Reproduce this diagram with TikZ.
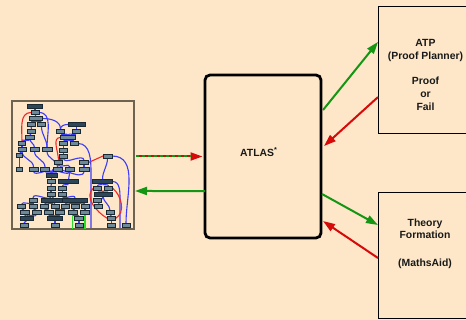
\documentclass[tikz,border=0pt]{standalone}
\usepackage{fontspec}
\setmainfont{Liberation Sans}
\usetikzlibrary{arrows.meta,calc}
\definecolor{bg}{RGB}{253,231,200}
\definecolor{agreen}{RGB}{20,150,20}
\definecolor{ared}{RGB}{215,10,10}
\definecolor{tblue}{RGB}{60,60,250}
\definecolor{tred}{RGB}{240,40,40}
\definecolor{tgreen}{RGB}{40,220,40}
\definecolor{tfill}{RGB}{110,138,153}
\definecolor{tdark}{RGB}{45,70,88}
\definecolor{tedge}{RGB}{25,40,50}
\definecolor{framec}{RGB}{110,98,80}
\definecolor{txt}{RGB}{25,25,25}
\pgfdeclarelayer{bgl}
\pgfdeclarelayer{edges}
\pgfsetlayers{bgl,edges,main}
\begin{document}
\begin{tikzpicture}[x=1pt,y=-1pt,
  tn/.style={draw=tedge, fill=tfill, line width=0.6pt, minimum height=4pt, minimum width=#1, inner sep=0pt, outer sep=0pt},
  tnd/.style={tn=#1, fill=tdark},
  be/.style={draw=tblue, line width=1.1pt},
  re/.style={draw=tred, line width=1.1pt},
  ge/.style={draw=tgreen, line width=1.1pt},
  box/.style={draw=black, line width=0.9pt, fill=bg, inner sep=0pt, outer sep=0pt},
  lbl/.style={font=\fontsize{10.4}{12.8}\selectfont\bfseries, text=txt, inner sep=0pt, anchor=base},
  arr/.style={line width=2pt, -{Triangle[length=12pt,width=8pt]}},
]
\useasboundingbox (0,0) rectangle (466,320);
\clip (0,0) rectangle (466,320);
\begin{pgfonlayer}{bgl}
\fill[bg] (0,0) rectangle (466,320);
\node[draw=framec, line width=1.8pt, fill=bg, minimum width=122pt, minimum height=128pt, inner sep=0pt, outer sep=0pt] (img) at (73,165) {};
\end{pgfonlayer}

% ---- tree picture: left cluster
\node[tnd=15pt] (n1) at (35,106) {};
\node[tn=8pt] (n2) at (35,112.5) {};
\node[tn=13pt] (n3) at (36,118.5) {};
\node[tn=8pt] (n4) at (31,124.5) {};
\node[tn=8pt] (n5) at (41.5,124.5) {};
\node[tn=8pt] (n6) at (31.5,131) {};
\node[tn=9pt] (n7) at (30,137) {};
\node[tn=7pt] (n8) at (22,143.5) {};
\node[tn=8pt] (n9) at (22,149.5) {};
\node[tn=9pt] (n10) at (34.5,149.5) {};
\node[tn=10pt] (n11) at (47,149.5) {};
\node[tn=6pt] (n12) at (19.5,155.5) {};
% right upper cluster
\node[tnd=17pt] (m1) at (76.5,124.5) {};
\node[tn=8pt] (m2) at (60.5,131) {};
\node[tn=8pt] (m3) at (76.5,131) {};
\node[tn=15pt] (m4) at (68,137.5) {};
\node[tn=8pt] (m5) at (63.5,143.5) {};
\node[tn=8pt] (m6) at (74,143.5) {};
\node[tn=8pt] (m7) at (63.5,150) {};
\node[tn=8pt] (m8) at (63.5,156) {};
\node[tn=8pt] (m9) at (58.5,162.5) {};
\node[tn=9pt] (m10) at (84,162.5) {};
\node[tn=9pt] (m11) at (107.5,156) {};
% middle row
\node[tn=6pt] (r1) at (19.5,169) {};
\node[tn=9pt] (r2) at (33.5,169) {};
\node[tn=9pt] (r3) at (45,169) {};
\node[tn=9pt] (r4) at (57.5,169) {};
\node[tn=9pt] (r5) at (70,169) {};
\node[tn=10pt] (r6) at (84,169) {};
\node[tnd=11pt] (s1) at (51.5,175) {};
\node[tn=8pt] (s2) at (51.5,181.5) {};
\node[tnd=20pt] (s3) at (68.5,181.5) {};
\node[tnd=20pt] (s4) at (102.5,181.5) {};
\node[tn=8pt] (s5) at (51,188) {};
\node[tn=8pt] (s6) at (62.5,188) {};
\node[tn=8pt] (s7) at (97.5,188) {};
\node[tn=8pt] (s8) at (108.5,188) {};
\node[tn=8pt] (s9) at (51,194) {};
\node[tn=8pt] (s10) at (62.5,194) {};
\node[tnd=18pt] (s11) at (103,194) {};
\node[tn=8pt] (t1) at (33,200) {};
\node[tnd=25pt] (t2) at (53.5,200) {};
\node[tnd=25pt] (t3) at (75,200) {};
\node[tn=8pt] (t4) at (97.5,200) {};
% lower rows
\node[tn=8pt] (u1) at (21.5,206.5) {};
\node[tn=8pt] (u2) at (33,206.5) {};
\node[tn=8pt] (u3) at (44.5,206.5) {};
\node[tn=8pt] (u4) at (55,206.5) {};
\node[tn=8pt] (u5) at (65,206.5) {};
\node[tn=8pt] (u6) at (75,206.5) {};
\node[tn=8pt] (u7) at (85,206.5) {};
\node[tn=8pt] (u8) at (98.5,206.5) {};
\node[tn=9pt] (v1) at (24.5,212.5) {};
\node[tn=9pt] (v2) at (36.5,212.5) {};
\node[tn=9pt] (v3) at (48.5,212.5) {};
\node[tn=9pt] (v4) at (60,212.5) {};
\node[tn=9pt] (v5) at (72.5,212.5) {};
\node[tn=9pt] (v6) at (85,212.5) {};
\node[tn=8pt] (v7) at (110,212.5) {};
\node[tnd=13pt] (w1) at (26.5,218.5) {};
\node[tnd=15pt] (w2) at (55,218.5) {};
\node[tn=9pt] (w3) at (79,218.5) {};
\node[tn=8pt] (w4) at (111.5,218.5) {};
\node[tn=8pt] (x1) at (24,225) {};
\node[tn=8pt] (x2) at (55,225) {};
\node[tn=8pt] (x3) at (79,225) {};
\node[tn=8pt] (x4) at (111.5,225) {};
\node[tn=8pt] (x5) at (126,225) {};
\coordinate (b1) at (91,172);
\coordinate (b2) at (91,228);
\coordinate (b3) at (120,200);
\coordinate (b4) at (120,228);

\begin{pgfonlayer}{edges}
\foreach \a/\b in {n1/n2,n2/n3,n3/n4,n3/n5,n4/n6,n6/n7,n7/n8,n7/n10,n8/n9,n9/n12,n12/r1,n9/r2,n10/r3,n11/r4,n5/n11,
  m9/r4,m9/r5,m10/r6,m1/m3,m3/m4,m2/m4,m4/m5,m4/m6,m5/m7,m7/m8,m8/m9,m8/m10,
  r2/s1,r3/s1,r4/s1,r5/s1,r6/s1,s1/s2,r5/s3,s2/s5,s3/s6,s5/s9,s6/s10,s9/t1,s9/t2,s10/t3,
  t1/u1,t1/u2,t2/u3,t2/u4,t3/u5,t3/u6,t3/u7,u1/v1,u2/v2,u3/v3,u4/v4,u5/v4,u6/v5,u7/v6,
  v1/w1,v2/w1,v3/w2,v4/w2,v5/w3,w1/x1,w2/x2,w3/x3,s4/s7,s4/s8,s11/u8,s11/v7,v7/w4,w4/x4,m11/s4}
  \draw[be] (\a.south) to[out=-90,in=90] (\b.north);
\draw[be] (n3.east) to[out=0,in=90] (m2.north);
\draw[be] (m1.west) to[out=180,in=90] (m2.north);
\draw[be] (n2.east) to[out=0,in=90] (n11.north);
\draw[be] (m6.east) to[out=0,in=90] (b1) -- (b2);
\draw[be] (m11.east) to[out=0,in=90] (x5.north);
\draw[be] (s4.east) to[out=0,in=90] (b3) -- (b4);
\draw[re] (n2.west) to[out=180,in=90] (n8.north);
\draw[re] (m4.west) to[out=180,in=90] (m9.north);
\draw[re] (m10.east) -- (m11.west);
\draw[re] (s7.south) to[out=-90,in=90] (s11.north);
\draw[re] (s8.south) to[out=-90,in=90] (s11.north);
\draw[re] (s7.west) to[out=220,in=150] (w4.west);
\draw[re] (s8.east) to[out=-40,in=30] (w4.east);
\draw[ge] (v5.south) -- (v5.south |- img.south);
\draw[ge] (v6.south) -- (v6.south |- img.south);
\end{pgfonlayer}

% ---- main boxes
\node[draw=black, line width=2.8pt, rounded corners=5pt, fill=bg, minimum width=116pt, minimum height=163pt, inner sep=0pt, outer sep=0pt] (atlas) at (263,156.5) {};
\node[box, minimum width=102pt, minimum height=127pt] (atp) at (429,69.5) {};
\node[box, minimum width=102pt, minimum height=126pt] (theory) at (429,255) {};

\node[lbl, anchor=base west] (atlastxt) at (240,156.5) {ATLAS\textsuperscript{*}};
\node[lbl] (atp1) at (425.5,46.9) {ATP};
\node[lbl] (atp2) at (425.5,59.7) {(Proof Planner)};
\node[lbl] (atp3) at (425.5,85) {Proof};
\node[lbl] (atp4) at (425.5,97.8) {or};
\node[lbl] (atp5) at (425.5,110.8) {Fail};
\node[lbl] (th1) at (425,226.3) {Theory};
\node[lbl] (th2) at (425,239) {Formation};
\node[lbl] (th3) at (425,266.2) {(MathsAid)};

% ---- connectors
\coordinate (d1) at ($(img.east |- atlas.west)+(2,0)$);
\coordinate (d2) at ($(atlas.west)+(-2.5,0)$);
\draw[arr, ared] (d1) -- (d2);
\draw[agreen, line width=2pt, dash pattern=on 3pt off 3pt, shorten >=12pt] (d1) -- (d2);
\draw[arr, agreen] ($(atlas.north west)!0.712!(atlas.south west)$) -- ($(img.north east)!0.703!(img.south east)+(1,0)$);
\draw[arr, agreen] ($(atlas.north east)!0.215!(atlas.south east)+(2,0)$) -- ($(atp.north west)!0.283!(atp.south west)$);
\draw[arr, ared] ($(atp.north west)!0.717!(atp.south west)$) -- ($(atlas.north east)!0.436!(atlas.south east)+(3,0)$);
\draw[arr, agreen] ($(atlas.north east)!0.73!(atlas.south east)+(1,0)$) -- ($(theory.north west)!0.262!(theory.south west)$);
\draw[arr, ared] ($(theory.north west)!0.524!(theory.south west)$) -- ($(atlas.north east)!0.896!(atlas.south east)+(2,0)$);
\end{tikzpicture}
\end{document}
